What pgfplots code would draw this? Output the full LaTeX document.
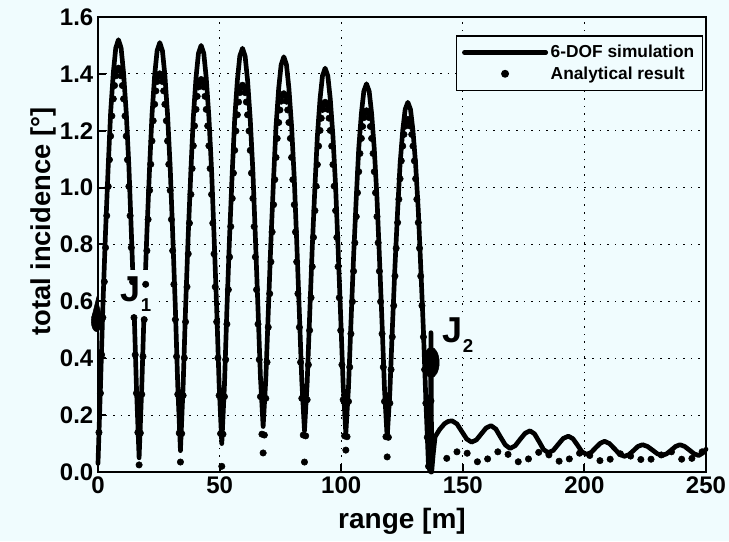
\documentclass[border=0pt]{standalone}
\usepackage{pgfplots}
\pgfplotsset{compat=1.18}
\usepackage{fontspec}
\setmainfont{Liberation Sans}
\usetikzlibrary{calc}
\definecolor{paper}{HTML}{F0FCFE}
\pagecolor{paper}
\pgfplotsset{
  lineleg/.style={legend image code/.code={\draw[##1] (0pt,0pt) -- (61pt,0pt);}},
  dotleg/.style={legend image code/.code={\draw[mark repeat=2,mark phase=2,##1] plot coordinates {(0pt,0pt) (30.5pt,0pt) (61pt,0pt)};}}
}

\begin{document}
\begin{tikzpicture}
\begin{axis}[
  scale only axis, width=456pt, height=341.25pt,
  xmin=0, xmax=250, ymin=0, ymax=1.6,
  xtick={0,50,100,150,200,250},
  ytick={0,0.2,0.4,0.6,0.8,1.0,1.2,1.4,1.6},
  /pgf/number format/assume math mode=true,
  y tick label style={/pgf/number format/fixed, /pgf/number format/fixed zerofill, /pgf/number format/precision=1},
  ticklabel style={font=\bfseries\fontsize{18}{18}\selectfont},
  axis line style={line width=2.2pt},
  tick style={line width=1.5pt, black},
  major tick length=6pt, tick align=inside, tick pos=left,
  grid=major, grid style={black, line width=0.9pt, dash pattern=on 1.2pt off 4.5pt},
  xlabel={range [m]},
  xlabel style={font=\bfseries\fontsize{21}{21}\selectfont, at={(rel axis cs:0.5,-0.108)}, anchor=center},
  ylabel={total incidence [°]},
  ylabel style={font=\bfseries\fontsize{20.5}{20.5}\selectfont, at={(rel axis cs:-0.0905,0.55)}, anchor=center},
  legend style={at={(rel axis cs:0.995,0.960)}, anchor=north east, draw=black, line width=1.1pt,
    fill=paper, font=\bfseries\fontsize{13}{15}\selectfont, inner xsep=4pt, inner ysep=5pt,
    row sep=1pt, cells={anchor=west}},
  clip=false
]
\coordinate (SW) at (rel axis cs:0,0);
\coordinate (NE) at (rel axis cs:1,1);

% 6-DOF simulation
\addplot[black, line width=3.5pt, line join=round, line cap=round, lineleg] coordinates {
 (0,0.03) (1.0,0.296) (2.0,0.582) (3.1,0.845) (4.2,1.075) (5.2,1.265) (6.3,1.404) (7.3,1.491) (8.4,1.52)
 (9.5,1.491) (10.5,1.404) (11.6,1.265) (12.7,1.075) (13.7,0.845) (14.8,0.582) (15.8,0.30) (16.9,0.05)
 (18.0,0.30) (19.0,0.578) (20.1,0.840) (21.2,1.068) (22.2,1.256) (23.3,1.395) (24.3,1.481) (25.4,1.51)
 (26.5,1.481) (27.5,1.395) (28.6,1.256) (29.7,1.068) (30.7,0.840) (31.8,0.578) (32.8,0.303) (33.9,0.075)
 (35.0,0.302) (36.0,0.575) (37.1,0.834) (38.2,1.061) (39.2,1.248) (40.3,1.386) (41.3,1.472) (42.4,1.50)
 (43.5,1.472) (44.5,1.386) (45.6,1.248) (46.7,1.061) (47.7,0.834) (48.8,0.575) (49.8,0.309) (50.9,0.10)
 (52.0,0.307) (53.0,0.571) (54.1,0.828) (55.2,1.054) (56.2,1.240) (57.3,1.377) (58.3,1.462) (59.4,1.49)
 (60.5,1.462) (61.5,1.377) (62.6,1.240) (63.7,1.054) (64.7,0.828) (65.8,0.571) (66.8,0.332) (67.9,0.16)
 (69.0,0.327) (70.0,0.559) (71.1,0.812) (72.2,1.032) (73.2,1.215) (74.3,1.349) (75.3,1.432) (76.4,1.46)
 (77.5,1.432) (78.5,1.349) (79.6,1.215) (80.7,1.032) (81.7,0.812) (82.8,0.559) (83.8,0.320) (84.9,0.145)
 (86.0,0.313) (87.0,0.543) (88.1,0.790) (89.2,1.004) (90.2,1.181) (91.3,1.312) (92.3,1.393) (93.4,1.42)
 (94.5,1.393) (95.5,1.312) (96.6,1.181) (97.7,1.004) (98.7,0.790) (99.8,0.543) (100.8,0.308) (101.9,0.135)
 (103.0,0.298) (104.0,0.522) (105.1,0.759) (106.2,0.965) (107.2,1.136) (108.3,1.261) (109.3,1.339) (110.4,1.365)
 (111.5,1.339) (112.5,1.261) (113.6,1.136) (114.7,0.965) (115.7,0.759) (116.8,0.522) (117.8,0.292) (118.9,0.12)
 (120.0,0.280) (121.0,0.498) (122.1,0.722) (123.2,0.919) (124.2,1.082) (125.3,1.201) (126.3,1.275) (127.4,1.30)
 (128.5,1.275) (129.5,1.201) (130.6,1.082) (131.7,0.919) (132.7,0.722) (133.8,0.498) (134.8,0.254) (135.9,0.02)
 (136.6,0.0) (136.9,0.49) (137.2,0.0) (137.8,0.06) (138.6,0.124)
 (140.5,0.150) (142.5,0.170) (144.0,0.178) (145.6,0.18) (147.6,0.169) (149.6,0.1425) (151.6,0.116) (153.6,0.105)
 (155.6,0.113) (157.6,0.134) (159.6,0.155) (161.6,0.163) (163.6,0.151) (165.5,0.123) (167.5,0.095) (169.4,0.083)
 (171.5,0.092) (173.5,0.114) (175.6,0.136) (177.6,0.145) (179.5,0.134) (181.4,0.1065) (183.2,0.079) (185.1,0.068)
 (187.2,0.076) (189.2,0.097) (191.3,0.118) (193.4,0.126) (195.3,0.117) (197.2,0.094) (199.0,0.071) (200.9,0.062)
 (202.8,0.069) (204.6,0.085) (206.5,0.101) (208.3,0.108) (210.3,0.100) (212.4,0.0815) (214.4,0.063) (216.4,0.055)
 (218.3,0.061) (220.2,0.0755) (222.0,0.090) (223.9,0.096) (225.9,0.090) (228.0,0.077) (230.0,0.064) (232.0,0.058)
 (233.8,0.064) (235.7,0.077) (237.5,0.090) (239.3,0.096) (241.2,0.090) (243.2,0.077) (245.1,0.064) (247.0,0.058)
 (248.5,0.066) (250,0.08)
};
\addlegendentry{6-DOF simulation}

% analytical result
\addplot[black, only marks, mark=*, mark size=2.4pt, dotleg] coordinates {
 (0.4,.139)(1.0,.277)(1.5,.412)(2.0,.543)(2.6,.669)(3.1,.789)(3.6,.901)(4.2,1.004)(4.7,1.098)(5.2,1.181)(5.7,1.252)
 (6.3,1.312)(6.8,1.359)(7.3,1.393)(7.9,1.413)(8.4,1.42)(8.9,1.413)(9.5,1.393)(10.0,1.359)(10.5,1.312)(11.1,1.252)
 (11.6,1.181)(12.1,1.098)(12.7,1.004)(13.2,.901)(13.7,.789)(14.2,.669)(14.8,.543)(15.3,.412)(15.8,.277)(16.4,.139)(16.9,.025)
 (17.4,.137)(18.0,.273)(18.5,.406)(19.0,.536)(19.6,.660)(20.1,.778)(20.6,.888)(21.2,.990)(21.7,1.082)(22.2,1.164)
 (22.7,1.235)(23.3,1.293)(23.8,1.340)(24.3,1.373)(24.9,1.393)(25.4,1.40)(25.9,1.393)(26.5,1.373)(27.0,1.340)(27.5,1.293)
 (28.1,1.235)(28.6,1.164)(29.1,1.082)(29.7,.990)(30.2,.888)(30.7,.778)(31.2,.660)(31.8,.536)(32.3,.406)(32.8,.273)(33.4,.137)(33.9,.035)
 (34.4,.135)(35.0,.269)(35.5,.401)(36.0,.528)(36.6,.651)(37.1,.767)(37.6,.875)(38.2,.976)(38.7,1.067)(39.2,1.147)
 (39.7,1.217)(40.3,1.275)(40.8,1.321)(41.3,1.354)(41.9,1.373)(42.4,1.38)(42.9,1.373)(43.5,1.354)(44.0,1.321)(44.5,1.275)
 (45.1,1.217)(45.6,1.147)(46.1,1.067)(46.7,.976)(47.2,.875)(47.7,.767)(48.2,.651)(48.8,.528)(49.3,.401)(49.8,.269)(50.4,.135)(50.9,.02)
 (51.4,.133)(52.0,.265)(52.5,.395)(53.0,.520)(53.6,.641)(54.1,.756)(54.6,.863)(55.2,.962)(55.7,1.051)(56.2,1.131)
 (56.7,1.199)(57.3,1.256)(57.8,1.301)(58.3,1.334)(58.9,1.353)(59.4,1.36)(59.9,1.353)(60.5,1.334)(61.0,1.301)(61.5,1.256)
 (62.1,1.199)(62.6,1.131)(63.1,1.051)(63.7,.962)(64.2,.863)(64.7,.756)(65.2,.641)(65.8,.520)(66.3,.395)(66.8,.265)(67.4,.133)(67.9,.067)
 (68.4,.130)(69.0,.259)(69.5,.386)(70.0,.509)(70.6,.627)(71.1,.739)(71.6,.844)(72.2,.940)(72.7,1.028)(73.2,1.106)
 (73.7,1.173)(74.3,1.229)(74.8,1.273)(75.3,1.304)(75.9,1.324)(76.4,1.33)(76.9,1.324)(77.5,1.304)(78.0,1.273)(78.5,1.229)
 (79.1,1.173)(79.6,1.106)(80.1,1.028)(80.7,.940)(81.2,.844)(81.7,.739)(82.2,.627)(82.8,.509)(83.3,.386)(83.8,.259)(84.4,.130)(84.9,.035)
 (85.4,.127)(86.0,.254)(86.5,.377)(87.0,.498)(87.6,.613)(88.1,.722)(88.6,.825)(89.2,.919)(89.7,1.005)(90.2,1.081)
 (90.7,1.146)(91.3,1.201)(91.8,1.244)(92.3,1.275)(92.9,1.294)(93.4,1.30)(93.9,1.294)(94.5,1.275)(95.0,1.244)(95.5,1.201)
 (96.1,1.146)(96.6,1.081)(97.1,1.005)(97.7,.919)(98.2,.825)(98.7,.722)(99.2,.613)(99.8,.498)(100.3,.377)(100.8,.254)(101.4,.127)(101.9,.077)
 (102.4,.124)(103.0,.248)(103.5,.369)(104.0,.486)(104.6,.599)(105.1,.706)(105.6,.806)(106.2,.898)(106.7,.982)(107.2,1.056)
 (107.7,1.120)(108.3,1.173)(108.8,1.215)(109.3,1.246)(109.9,1.264)(110.4,1.27)(110.9,1.264)(111.5,1.246)(112.0,1.215)(112.5,1.173)
 (113.1,1.120)(113.6,1.056)(114.1,.982)(114.7,.898)(115.2,.806)(115.7,.706)(116.2,.599)(116.8,.486)(117.3,.369)(117.8,.248)(118.4,.124)(118.9,.053)
 (119.4,.122)(120.0,.242)(120.5,.360)(121.0,.475)(121.6,.585)(122.1,.689)(122.6,.787)(123.2,.877)(123.7,.959)(124.2,1.031)
 (124.7,1.094)(125.3,1.146)(125.8,1.187)(126.3,1.216)(126.9,1.234)(127.4,1.24)(127.9,1.234)(128.5,1.216)(129.0,1.187)(129.5,1.146)
 (130.1,1.094)(130.6,1.031)(131.1,.959)(131.7,.877)(132.2,.787)(132.7,.689)(133.2,.585)(133.8,.475)(134.3,.360)(134.8,.242)(135.4,.122)(135.9,.02)
 (136.5,.12)(136.9,.25)(137.3,.36)
 (143.4,.048)(147.6,.071)(151.8,.066)(156.0,.036)(160.2,.046)(164.4,.071)(168.6,.062)(172.8,.036)(177.0,.046)
 (181.2,.069)(185.4,.060)(189.6,.038)(193.8,.046)(198.0,.066)(202.2,.058)(206.4,.040)(210.6,.045)(214.8,.064)
 (219.0,.056)(223.2,.044)(227.4,.045)(231.6,.060)(235.8,.071)(240.0,.045)(244.2,.048)(248.4,.071)
};
\addlegendentry{Analytical result}

% jet firing markers
\addplot[black, only marks, mark=*, mark size=3.9pt, mark options={yscale=2.0}, forget plot] coordinates {(-0.6,0.53)};
\addplot[black, only marks, mark=triangle*, mark size=4.3pt, mark options={yscale=2.3}, forget plot] coordinates {(-0.5,0.568)};
\addplot[black, only marks, mark=*, mark size=6pt, mark options={yscale=1.9}, forget plot] coordinates {(137.0,0.385)};

\node[fill=paper, inner xsep=2pt, inner ysep=5pt, font=\bfseries\fontsize{27}{27}\selectfont]
  at (axis cs:15.6,0.626) {J\raisebox{-7.5pt}{\fontsize{14}{14}\selectfont 1}};
\node[fill=paper, inner xsep=2pt, inner ysep=3pt, font=\bfseries\fontsize{27}{27}\selectfont]
  at (axis cs:148.0,0.48) {J\raisebox{-7.5pt}{\fontsize{14}{14}\selectfont 2}};
\end{axis}
\pgfresetboundingbox
\path ($(SW)+(-73.5pt,-51.75pt)$) rectangle ($(NE)+(17.25pt,12.75pt)$);
\end{tikzpicture}
\end{document}
